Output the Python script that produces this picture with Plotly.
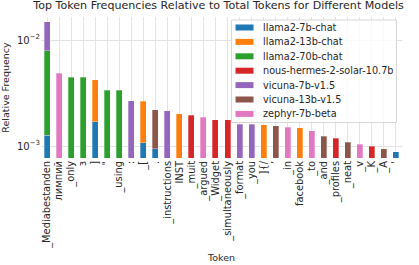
import plotly.graph_objects as go

tokens = ["_Mediabestanden", "лимпий", "_only", "з", "]", "\"", "_using", ":", "_[", ".",
          "_instructions", "INST", "_muit", "_argued", "_Widget", "_simultaneously", "_format", "_you", "]{/", "’",
          "_in", "facebook", "_to", "_and", "_profiles", "_neat", "_v", "_K", "_A", "'"]

N = None
llama2_7b   = [0.00127, N, N, N, 0.00169, N, N, N, 0.00107, 0.00094, N, N, N, N, N, N, N, N, N, N, N, N, N, N, N, N, N, N, N, 0.00088]
llama2_13b  = [N, N, N, N, 0.00251, N, N, N, 0.00157, N, N, 0.00202, N, N, N, N, N, N, 0.00158, N, N, 0.00148, N, N, N, N, N, N, N, N]
llama2_70b  = [0.00665, N, 0.00444, 0.00444, N, 0.00335, 0.00335, N, N, N, N, N, N, N, N, N, N, N, N, N, N, N, N, N, N, N, N, N, N, N]
nous_hermes = [N, N, N, N, N, N, N, N, N, N, N, N, 0.00196, N, 0.00177, 0.00177, N, N, N, N, N, N, N, N, 0.00119, N, N, 0.00099, N, N]
vicuna_7b   = [0.00688, N, N, N, N, N, N, 0.00268, N, N, 0.00214, N, N, N, N, N, 0.00161, 0.00161, N, N, N, N, N, N, N, N, N, N, N, N]
vicuna_13b  = [N, N, N, N, N, N, N, N, N, 0.00125, N, N, N, N, N, N, N, N, N, 0.00156, N, N, N, 0.00124, N, 0.00109, N, N, 0.00094, N]
zephyr_7b   = [N, 0.00485, N, N, N, N, N, N, N, N, N, N, N, 0.00186, N, N, N, N, N, N, 0.00151, N, 0.00139, N, N, N, 0.00104, N, N, N]

series = [
    ("llama2-7b-chat", llama2_7b, "#1f77b4"),
    ("llama2-13b-chat", llama2_13b, "#ff7f0e"),
    ("llama2-70b-chat", llama2_70b, "#2ca02c"),
    ("nous-hermes-2-solar-10.7b", nous_hermes, "#d62728"),
    ("vicuna-7b-v1.5", vicuna_7b, "#9467bd"),
    ("vicuna-13b-v1.5", vicuna_13b, "#8c564b"),
    ("zephyr-7b-beta", zephyr_7b, "#e377c2"),
]

FONT = "DejaVu Sans"
TXT = "#262626"
W, H = 419, 265
ML, MR, MT, MB = 41, 17, 17, 107
PW, PH = W - ML - MR, H - MT - MB


def px2paper_x(px):
    return (px - ML) / PW


def px2paper_y(py):
    return (H - MB - py) / PH


fig = go.Figure()
for name, vals, col in series:
    fig.add_trace(go.Bar(x=tokens, y=vals, name=name, width=0.5, showlegend=False,
                         marker=dict(color=col, line=dict(color="rgba(255,255,255,0.6)", width=0.5))))

# legend box (matplotlib-style, compact)
shapes = [dict(type="rect", xref="paper", yref="paper", layer="above",
               x0=px2paper_x(231.5), x1=px2paper_x(396.5), y0=px2paper_y(122.5), y1=px2paper_y(20),
               fillcolor="rgba(255,255,255,0.8)", line=dict(color="#d6d6d6", width=1))]
annotations = []
for i, (name, _, col) in enumerate(series):
    cy = 27.5 + i * 14.4
    shapes.append(dict(type="rect", xref="paper", yref="paper", layer="above",
                       x0=px2paper_x(235.5), x1=px2paper_x(253.5),
                       y0=px2paper_y(cy + 3), y1=px2paper_y(cy - 3),
                       fillcolor=col, line=dict(width=0)))
    annotations.append(dict(xref="paper", yref="paper", x=px2paper_x(260.5), y=px2paper_y(cy),
                            xanchor="left", yanchor="middle", showarrow=False, text=name,
                            font=dict(family=FONT, size=9.7, color=TXT)))

fig.update_layout(
    width=W, height=H,
    barmode="stack",
    paper_bgcolor="white", plot_bgcolor="white",
    margin=dict(l=ML, r=MR, t=MT, b=MB),
    font=dict(family=FONT, size=9, color=TXT),
    title=dict(text="Top Token Frequencies Relative to Total Tokens for Different Models",
               xref="paper", x=0.492, xanchor="center", yref="container", y=0.995, yanchor="top",
               font=dict(family=FONT, size=11.1, color=TXT)),
    showlegend=False,
    shapes=shapes,
    annotations=annotations,
)
fig.update_xaxes(
    type="category", tickangle=-90, showgrid=True, gridcolor="#e3e3e3", gridwidth=1,
    ticks="", tickfont=dict(family=FONT, size=9.9, color=TXT), automargin=False,
    title=dict(text="Token", font=dict(family=FONT, size=9.5, color=TXT), standoff=6),
    showline=False, zeroline=False, range=[-0.5, len(tokens) - 0.5],
)
fig.update_yaxes(
    type="log", range=[-3.113, -1.783], showgrid=True, gridcolor="#e3e3e3", gridwidth=1,
    tickvals=[0.001, 0.01], ticktext=["10<sup>−3</sup>", "10<sup>−2</sup>"],
    ticks="", tickfont=dict(family=FONT, size=10, color=TXT), automargin=False,
    title=dict(text="Relative Frequency", font=dict(family=FONT, size=9.5, color=TXT), standoff=16),
    showline=False, zeroline=False,
)

fig.write_html("out.html", config={"displayModeBar": False},
               post_script="document.body.style.margin='0';")
